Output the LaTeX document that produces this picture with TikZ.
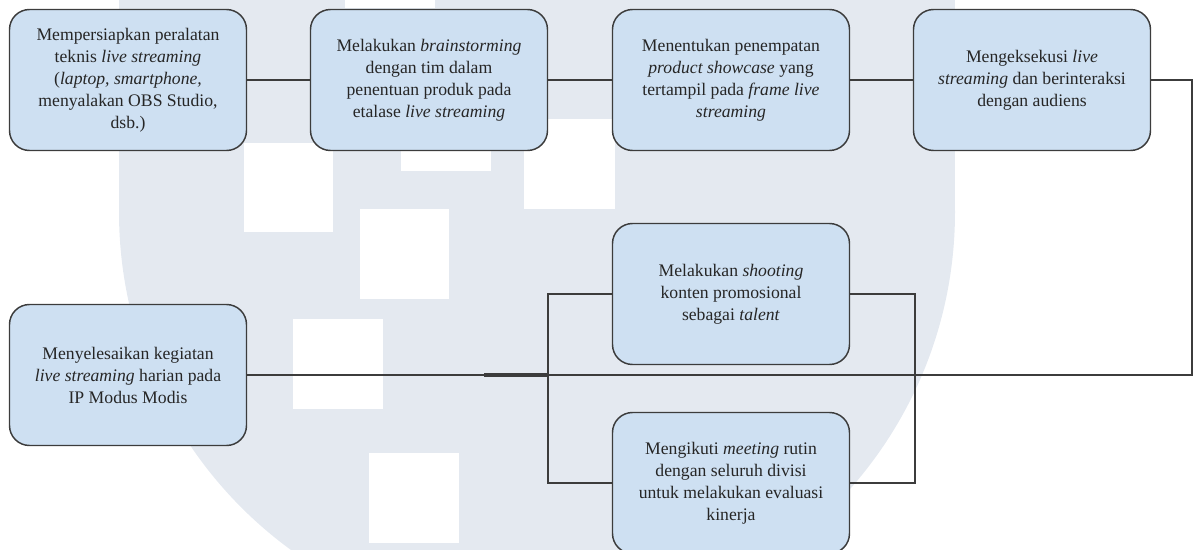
\documentclass[tikz,border=0pt]{standalone}
\usepackage{fontspec}
\setmainfont{Liberation Serif}
\definecolor{boxblue}{RGB}{206,224,242}
\definecolor{boxline}{RGB}{60,60,60}
\definecolor{wmgray}{RGB}{228,233,240}

\begin{document}
\begin{tikzpicture}[x = 0.75pt, y = -0.75pt]
\tikzstyle{block}= [draw=boxline, fill=boxblue, line width=1.1pt, rounded corners=15pt,
    minimum width=177.75pt, minimum height=105.75pt, align=center,
    text=black!85, font=\fontsize{13.25}{16.5}\selectfont]
\useasboundingbox (0,0) rectangle (1197,550);

% watermark behind the chart
\fill[wmgray] (119,0) rectangle (955,212);
\fill[wmgray] (537,212) circle [radius=313.5pt];
\begin{scope}[every path/.style={fill=white}]
    \fill (345,0) rectangle (435,8);
    \fill (244,143) rectangle (333,232);
    \fill (401,82) rectangle (491,171);
    \fill (524,119) rectangle (615,209);
    \fill (360,209) rectangle (449,299);
    \fill (293,319) rectangle (383,409);
    \fill (369,453) rectangle (459,543);
\end{scope}

    \node[block] (prep) at (128,80) {Mempersiapkan peralatan\\teknis \textit{live streaming}\\(\textit{laptop, smartphone,}\\menyalakan OBS Studio,\\dsb.)};
    \node[block] (brainstorm) at (429,80) {Melakukan \textit{brainstorming}\\dengan tim dalam\\penentuan produk pada\\etalase \textit{live streaming}};
    \node[block] (showcase) at (731,80) {Menentukan penempatan\\\textit{product showcase} yang\\tertampil pada \textit{frame live}\\\textit{streaming}};
    \node[block] (execute) at (1032,80) {Mengeksekusi \textit{live}\\\textit{streaming} dan berinteraksi\\dengan audiens};
    \node[block] (finish) at (128,375) {Menyelesaikan kegiatan\\\textit{live streaming} harian pada\\IP Modus Modis};
    \node[block] (shooting) at (731,294) {Melakukan \textit{shooting}\\konten promosional\\sebagai \textit{talent}};
    \node[block] (meeting) at (731,483) {Mengikuti \textit{meeting} rutin\\dengan seluruh divisi\\untuk melakukan evaluasi\\kinerja};
    \coordinate (turn) at (1192,375);
    \coordinate (jl) at (548,375);
    \coordinate (jr) at (915,375);
    \coordinate (stub) at (484,375);
\begin{scope}[draw=boxline, line width=0.9pt]

    \draw (prep) -- (brainstorm);
    \draw (brainstorm) -- (showcase);
    \draw (showcase) -- (execute);
    \draw (execute.east) -| (turn) -- (finish.east);
    \draw (shooting.west) -| (jl) |- (meeting.west);
    \draw (shooting.east) -| (jr) |- (meeting.east);
\end{scope}
    \draw[boxline, line width=2.4pt] (stub) -- (jl);

\end{tikzpicture}
\end{document}
